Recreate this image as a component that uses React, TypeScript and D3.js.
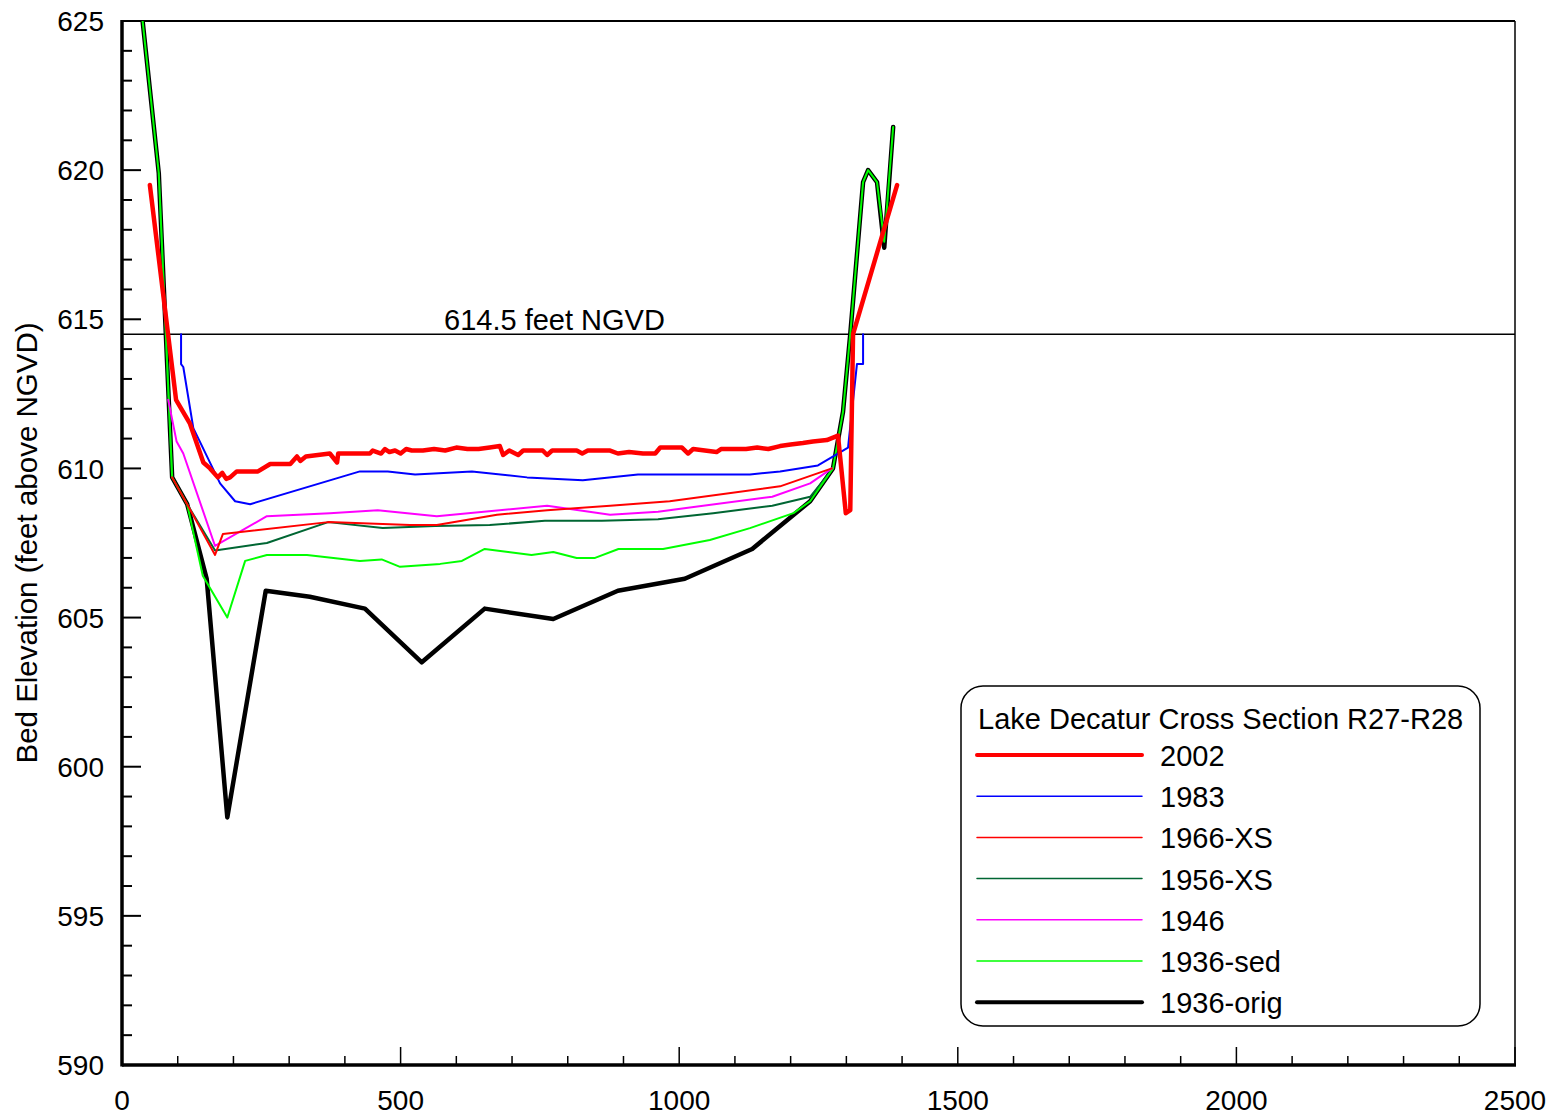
import React, { useRef, useEffect } from 'react';
import * as d3 from 'd3';

type Pt = [number, number];

// station (ft) / bed elevation (ft NGVD)
const s2002: Pt[] = [
  [50, 619.5], [97, 612.3], [122, 611.5], [146, 610.2], [158, 610.0], [172, 609.7], [180, 609.85],
  [187, 609.65], [194, 609.7], [206, 609.9], [244, 609.9], [266, 610.15], [302, 610.15], [314, 610.4],
  [320, 610.25], [330, 610.4], [373, 610.5], [386, 610.2], [388, 610.5], [445, 610.5], [450, 610.6],
  [465, 610.5], [472, 610.65], [480, 610.55], [490, 610.6], [500, 610.5], [510, 610.65], [520, 610.6],
  [540, 610.6], [560, 610.65], [580, 610.6], [600, 610.7], [620, 610.65], [640, 610.65], [660, 610.7],
  [678, 610.75], [684, 610.45], [695, 610.6], [711, 610.45], [720, 610.6], [755, 610.6], [763, 610.45],
  [772, 610.6], [816, 610.6], [826, 610.5], [836, 610.6], [876, 610.6], [890, 610.5], [910, 610.55],
  [935, 610.5], [957, 610.5], [966, 610.7], [1005, 610.7], [1016, 610.5], [1025, 610.65], [1067, 610.55],
  [1075, 610.65], [1120, 610.65], [1140, 610.7], [1160, 610.65], [1181, 610.75], [1200, 610.8],
  [1222, 610.85], [1240, 610.9], [1265, 610.95], [1285, 611.1], [1299, 608.5], [1307, 608.6],
  [1312, 614.5], [1391, 619.5],
];

const s1983: Pt[] = [
  [106, 614.5], [106, 613.5], [110, 613.4], [128, 611.35], [176, 609.5], [203, 608.9], [230, 608.8],
  [427, 609.9], [477, 609.9], [526, 609.8], [628, 609.9], [727, 609.7], [827, 609.6], [926, 609.8],
  [1127, 609.8], [1181, 609.9], [1249, 610.1], [1303, 610.7], [1319, 613.5], [1330, 613.5], [1330, 614.5],
];

const s1966: Pt[] = [
  [90, 609.7], [117, 608.8], [167, 607.1], [181, 607.8], [370, 608.2], [517, 608.1], [565, 608.1],
  [673, 608.45], [763, 608.6], [876, 608.75], [983, 608.9], [1181, 609.4], [1274, 610.0],
];

const s1956: Pt[] = [
  [66, 619.9], [90, 609.7], [117, 608.8], [167, 607.25], [260, 607.5], [370, 608.2], [468, 608.0],
  [562, 608.07], [660, 608.1], [759, 608.25], [861, 608.25], [962, 608.3], [1061, 608.5],
  [1167, 608.75], [1235, 609.05], [1276, 610.0],
];

const s1946: Pt[] = [
  [83, 612.3], [98, 610.9], [110, 610.5], [167, 607.4], [260, 608.4], [373, 608.5], [459, 608.6],
  [565, 608.4], [763, 608.75], [876, 608.45], [962, 608.55], [1167, 609.05], [1235, 609.5], [1274, 610.0],
];

const s1936sed: Pt[] = [
  [37, 625], [66, 619.9], [90, 609.7], [117, 608.8], [145, 606.4], [189, 605.0], [221, 606.9],
  [260, 607.1], [332, 607.1], [427, 606.9], [466, 606.95], [499, 606.7], [571, 606.8], [610, 606.9],
  [651, 607.3], [693, 607.2], [735, 607.1], [774, 607.2], [816, 607.0], [849, 607.0], [891, 607.3],
  [971, 607.3], [1055, 607.6], [1127, 608.0], [1205, 608.5], [1235, 608.9], [1276, 610.0],
  [1294, 611.9], [1307, 614.5], [1330, 619.6], [1339, 620.0], [1355, 619.6], [1368, 617.6], [1384, 621.45],
];

const s1936orig: Pt[] = [
  [37, 625], [66, 619.9], [90, 609.7], [117, 608.8], [152, 606.3], [189, 598.3], [258, 605.9],
  [337, 605.7], [436, 605.3], [538, 603.5], [651, 605.3], [774, 604.95], [890, 605.9], [1010, 606.3],
  [1131, 607.3], [1235, 608.9], [1276, 610.0], [1294, 611.9], [1307, 614.5], [1330, 619.6],
  [1339, 620.0], [1355, 619.6], [1368, 617.4], [1384, 621.45],
];

const seriesNames = ['2002', '1983', '1966-XS', '1956-XS', '1946', '1936-sed', '1936-orig'];
const poolLevel = 614.5;
const xTickLabels = [0, 500, 1000, 1500, 2000, 2500];
const yTickLabels = [590, 595, 600, 605, 610, 615, 620, 625];

const seriesData: Record<string, Pt[]> = {
  '2002': s2002, '1983': s1983, '1966-XS': s1966, '1956-XS': s1956,
  '1946': s1946, '1936-sed': s1936sed, '1936-orig': s1936orig,
};
const style: Record<string, { color: string; width: number }> = {
  '2002': { color: '#ff0000', width: 4.5 },
  '1983': { color: '#0000ff', width: 2 },
  '1966-XS': { color: '#ff0000', width: 2 },
  '1956-XS': { color: '#006633', width: 2 },
  '1946': { color: '#ff00ff', width: 2 },
  '1936-sed': { color: '#00ff00', width: 2 },
  '1936-orig': { color: '#000000', width: 4.5 },
};
const drawOrder = ['1936-orig', '1956-XS', '1936-sed', '1946', '1966-XS', '1983', '2002'];

const FONT = '"Liberation Sans", Arial, sans-serif';

const App = () => {
  const svgRef = useRef<SVGSVGElement>(null);

  useEffect(() => {
    const width = 1557;
    const height = 1117;
    const left = 122, right = 1515, top = 21, bottom = 1065;

    const svg = d3.select(svgRef.current)
      .attr('width', width)
      .attr('height', height)
      .style('background', '#fff');
    svg.selectAll('*').remove();

    const x = d3.scaleLinear().domain([0, 2500]).range([left, right]);
    const y = d3.scaleLinear().domain([590, 625]).range([bottom, top]);

    svg.append('clipPath').attr('id', 'plotclip')
      .append('rect').attr('x', left).attr('y', top)
      .attr('width', right - left).attr('height', bottom - top);

    // frame: thin top / right
    svg.append('line').attr('x1', left).attr('x2', right).attr('y1', top).attr('y2', top)
      .attr('stroke', '#000').attr('stroke-width', 2);
    svg.append('line').attr('x1', right).attr('x2', right).attr('y1', top).attr('y2', bottom)
      .attr('stroke', '#000').attr('stroke-width', 1.5);

    // y ticks (inward)
    const yt = svg.append('g');
    d3.range(590, 626, 1).forEach(v => {
      const major = v % 5 === 0;
      yt.append('line').attr('x1', left).attr('x2', left + (major ? 19 : 10))
        .attr('y1', y(v)).attr('y2', y(v)).attr('stroke', '#000').attr('stroke-width', 2);
    });
    yTickLabels.forEach(v => {
      yt.append('text').attr('x', left - 18).attr('y', y(v)).attr('dy', '0.36em')
        .attr('text-anchor', 'end').style('font-family', FONT).style('font-size', '28px')
        .text(v);
    });

    // x ticks (inward)
    const xt = svg.append('g');
    d3.range(0, 2501, 100).forEach(v => {
      const major = v % 500 === 0;
      xt.append('line').attr('x1', x(v)).attr('x2', x(v))
        .attr('y1', bottom).attr('y2', bottom - (major ? 18 : 9))
        .attr('stroke', '#000').attr('stroke-width', 1.5);
    });
    xTickLabels.forEach(v => {
      xt.append('text').attr('x', x(v)).attr('y', 1110)
        .attr('text-anchor', 'middle').style('font-family', FONT).style('font-size', '28px')
        .text(v);
    });

    // thick left / bottom axes
    svg.append('line').attr('x1', left).attr('x2', left).attr('y1', top - 1).attr('y2', bottom + 1.5)
      .attr('stroke', '#000').attr('stroke-width', 3.5);
    svg.append('line').attr('x1', left).attr('x2', right + 1).attr('y1', bottom).attr('y2', bottom)
      .attr('stroke', '#000').attr('stroke-width', 3.5);

    svg.append('text')
      .attr('transform', `translate(37, ${(top + bottom) / 2}) rotate(-90)`)
      .attr('text-anchor', 'middle').style('font-family', FONT).style('font-size', '29.5px')
      .text('Bed Elevation (feet above NGVD)');

    // pool level line
    svg.append('line').attr('x1', left).attr('x2', right)
      .attr('y1', y(poolLevel)).attr('y2', y(poolLevel))
      .attr('stroke', '#000').attr('stroke-width', 1.5);
    svg.append('text').attr('x', 444).attr('y', y(poolLevel) - 4)
      .style('font-family', FONT).style('font-size', '29px')
      .text(`${poolLevel} feet NGVD`);

    const line = d3.line<Pt>().x(d => x(d[0])).y(d => y(d[1]));
    const lines = svg.append('g').attr('clip-path', 'url(#plotclip)');
    drawOrder.forEach(name => {
      lines.append('path')
        .attr('d', line(seriesData[name]) as string)
        .attr('fill', 'none')
        .attr('stroke', style[name].color)
        .attr('stroke-width', style[name].width)
        .attr('stroke-linejoin', 'round')
        .attr('stroke-linecap', 'round');
    });

    // legend
    const lg = svg.append('g');
    lg.append('rect').attr('x', 961).attr('y', 686).attr('width', 519).attr('height', 340)
      .attr('rx', 22).attr('ry', 22).attr('fill', '#fff').attr('stroke', '#000').attr('stroke-width', 1.5);
    lg.append('text').attr('x', 978).attr('y', 729)
      .style('font-family', FONT).style('font-size', '29px')
      .text('Lake Decatur Cross Section R27-R28');
    seriesNames.forEach((name, i) => {
      const ly = 755 + i * 41.2;
      lg.append('line').attr('x1', 977).attr('x2', 1142).attr('y1', ly).attr('y2', ly)
        .attr('stroke', style[name].color).attr('stroke-width', style[name].width - 0.5)
        .attr('stroke-linecap', 'round');
      lg.append('text').attr('x', 1160).attr('y', ly + 11)
        .style('font-family', FONT).style('font-size', '29px')
        .text(name);
    });
  }, []);

  return <svg ref={svgRef} style={{ position: 'absolute', left: 0, top: 0 }}></svg>;
};

export default App;
